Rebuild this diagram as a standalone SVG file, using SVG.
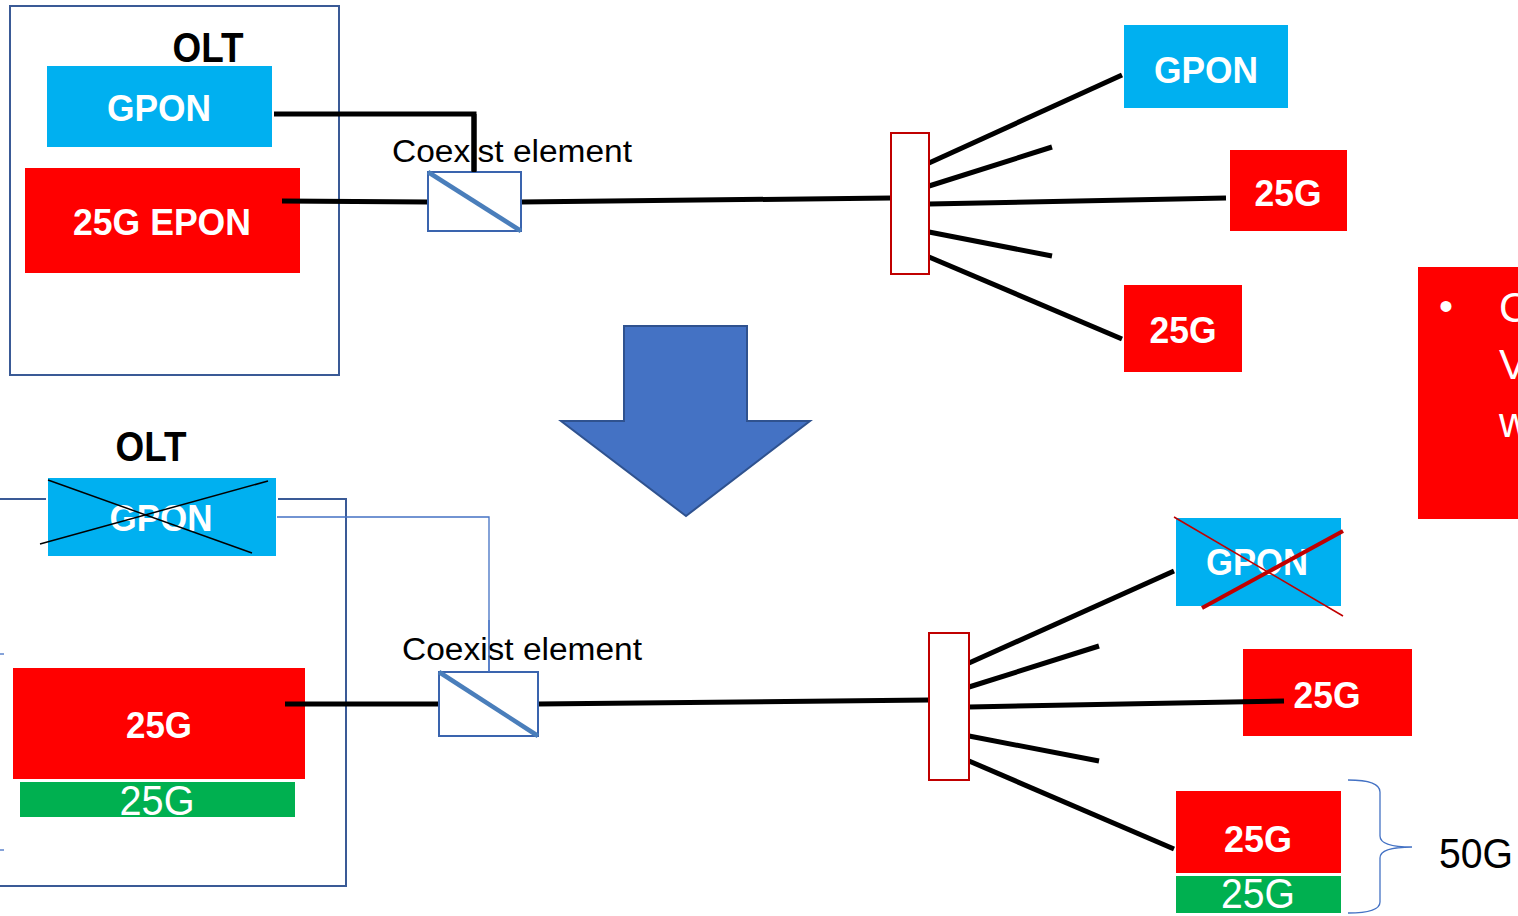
<svg xmlns="http://www.w3.org/2000/svg" width="1518" height="916" viewBox="0 0 1518 916">
<style>
.olt{fill:none;stroke:#3A5A96;stroke-width:2}
.gpon{fill:#00B0F0}
.red{fill:#FF0000}
.green{fill:#00B050}
.bw{font-family:"Liberation Sans",Arial,sans-serif;font-weight:bold;fill:#fff;text-anchor:middle}
.rw{font-family:"Liberation Sans",Arial,sans-serif;fill:#fff;text-anchor:middle}
.bk{font-family:"Liberation Sans",Arial,sans-serif;fill:#000}
.title{font-family:"Liberation Sans",Arial,sans-serif;font-weight:bold;fill:#000;text-anchor:middle}
.fib{stroke:#000;stroke-width:5;fill:none}
.coex{fill:#fff;stroke:#3A64AE;stroke-width:2}
.diag{stroke:#4A7EBB;stroke-width:4.5}
.split{fill:#fff;stroke:#C00000;stroke-width:2}
.thin{stroke:#4472C4;stroke-width:1.3;fill:none}
</style>

<!-- Top OLT -->
<g id="olt-top">
<rect class="olt" x="10" y="6" width="329" height="369"/>
<text class="title" x="208" y="62" font-size="42" textLength="71" lengthAdjust="spacingAndGlyphs">OLT</text>
</g>
<g id="gpon-top">
<rect class="gpon" x="47" y="66" width="225" height="81"/>
<text class="bw" x="159" y="121" font-size="36" textLength="104" lengthAdjust="spacingAndGlyphs">GPON</text>
</g>
<g id="epon-top">
<rect class="red" x="25" y="168" width="275" height="105"/>
<text class="bw" x="162" y="235" font-size="37" textLength="178" lengthAdjust="spacingAndGlyphs">25G EPON</text>
</g>

<!-- Top connectors -->
<g id="connectors-top">
<polyline class="fib" points="274,114 474,114 474,172"/>
<line class="fib" x1="282" y1="201" x2="428" y2="202"/>
<line class="fib" x1="521" y1="202" x2="891" y2="198"/>
<line class="fib" x1="929" y1="163" x2="1122" y2="75"/>
<line class="fib" x1="929" y1="186" x2="1052" y2="147"/>
<line class="fib" x1="929" y1="204" x2="1226" y2="198"/>
<line class="fib" x1="929" y1="232" x2="1052" y2="256"/>
<line class="fib" x1="929" y1="257" x2="1122" y2="339"/>
</g>

<g id="coexist-top">
<rect class="coex" x="428" y="172" width="93" height="59"/>
<line class="diag" x1="428" y1="172" x2="521" y2="231"/>
<text class="bk" x="392" y="162" font-size="31" textLength="240" lengthAdjust="spacingAndGlyphs">Coexist element</text>
</g>
<polyline class="fib" points="474,114 474,172" id="gpon-drop-top"/>

<g id="splitter-top">
<rect class="split" x="891" y="133" width="38" height="141"/>
</g>

<g id="onu-gpon-top">
<rect class="gpon" x="1124" y="25" width="164" height="83"/>
<text class="bw" x="1206" y="83" font-size="36" textLength="104" lengthAdjust="spacingAndGlyphs">GPON</text>
</g>
<g id="onu-25g-top1">
<rect class="red" x="1230" y="150" width="117" height="81"/>
<text class="bw" x="1288" y="206" font-size="37" textLength="67" lengthAdjust="spacingAndGlyphs">25G</text>
</g>
<g id="onu-25g-top2">
<rect class="red" x="1124" y="285" width="118" height="87"/>
<text class="bw" x="1183" y="343" font-size="37" textLength="67" lengthAdjust="spacingAndGlyphs">25G</text>
</g>

<!-- Right red note (clipped) -->
<g id="note">
<rect class="red" x="1418" y="267" width="110" height="252"/>
<text class="rw" x="1446" y="320" font-size="40">•</text>
<text class="bk" x="1499" y="322" font-size="42" style="fill:#fff">C</text>
<text class="bk" x="1499" y="379" font-size="42" style="fill:#fff">V</text>
<text class="bk" x="1499" y="437" font-size="42" style="fill:#fff">w</text>
</g>

<!-- Big arrow -->
<g id="arrow">
<polygon points="624,326 747,326 747,421 810,421 686,516 561,421 624,421" fill="#4472C4" stroke="#2F528F" stroke-width="2"/>
</g>

<!-- Bottom OLT -->
<g id="olt-bottom">
<rect class="olt" x="-20" y="499" width="366" height="387"/>
<line class="thin" x1="0" y1="654" x2="4" y2="654"/>
<line class="thin" x1="0" y1="850" x2="4" y2="850"/>
<text class="title" x="151" y="461" font-size="42" textLength="71" lengthAdjust="spacingAndGlyphs">OLT</text>
</g>
<g id="gpon-bottom">
<rect class="gpon" x="47" y="477" width="230" height="80" stroke="#fff" stroke-width="2"/>
<text class="bw" x="161" y="531" font-size="36" textLength="103" lengthAdjust="spacingAndGlyphs">GPON</text>
<line x1="48" y1="480" x2="252" y2="553" stroke="#000" stroke-width="1.5"/>
<line x1="40" y1="544" x2="268" y2="481" stroke="#000" stroke-width="1.5"/>
</g>
<g id="olt-25g-bottom">
<rect class="red" x="13" y="668" width="292" height="111"/>
<text class="bw" x="159" y="738" font-size="37" textLength="66" lengthAdjust="spacingAndGlyphs">25G</text>
</g>
<g id="olt-25g-green">
<rect class="green" x="20" y="782" width="275" height="35"/>
<text class="rw" x="157" y="815" font-size="42" textLength="75" lengthAdjust="spacingAndGlyphs">25G</text>
</g>

<g id="connectors-bottom">
<polyline class="thin" points="277,517 489,517 489,672"/>
<line class="fib" x1="285" y1="704" x2="439" y2="704"/>
<line class="fib" x1="538" y1="704" x2="929" y2="700"/>
<line class="fib" x1="969" y1="663" x2="1174" y2="571"/>
<line class="fib" x1="969" y1="687" x2="1099" y2="646"/>
<line class="fib" x1="969" y1="707" x2="1284" y2="701"/>
<line class="fib" x1="969" y1="736" x2="1099" y2="761"/>
<line class="fib" x1="969" y1="761" x2="1174" y2="849"/>
</g>

<g id="coexist-bottom">
<rect class="coex" x="439" y="672" width="99" height="64"/>
<line class="diag" x1="439" y1="672" x2="538" y2="736"/>
<text class="bk" x="402" y="660" font-size="31" textLength="240" lengthAdjust="spacingAndGlyphs">Coexist element</text>
<line class="thin" x1="489" y1="620" x2="489" y2="672"/>
</g>

<g id="splitter-bottom">
<rect class="split" x="929" y="633" width="40" height="147"/>
</g>

<g id="onu-gpon-bottom">
<rect class="gpon" x="1176" y="518" width="165" height="88"/>
<text class="bw" x="1257" y="575" font-size="36" textLength="102" lengthAdjust="spacingAndGlyphs">GPON</text>
<line x1="1174" y1="517" x2="1343" y2="616" stroke="#C00000" stroke-width="1.5"/>
<line x1="1202" y1="608" x2="1343" y2="531" stroke="#C00000" stroke-width="4"/>
</g>
<g id="onu-25g-bottom1">
<rect class="red" x="1243" y="649" width="169" height="87"/>
<text class="bw" x="1327" y="708" font-size="37" textLength="67" lengthAdjust="spacingAndGlyphs">25G</text>
</g>
<line class="fib" x1="1243" y1="701.8" x2="1284" y2="701"/>
<g id="onu-50g">
<rect class="red" x="1176" y="791" width="165" height="82"/>
<text class="bw" x="1258" y="852" font-size="37" textLength="68" lengthAdjust="spacingAndGlyphs">25G</text>
<rect class="green" x="1176" y="876" width="165" height="37"/>
<text class="rw" x="1258" y="908" font-size="42" textLength="74" lengthAdjust="spacingAndGlyphs">25G</text>
<path class="thin" d="M1348,780 Q1380,780 1380,792 L1380,836 Q1380,847 1412,847 Q1380,847 1380,858 L1380,902 Q1380,913 1348,913"/>
<text class="bk" x="1439" y="868" font-size="42" textLength="74" lengthAdjust="spacingAndGlyphs">50G</text>
</g>
</svg>
